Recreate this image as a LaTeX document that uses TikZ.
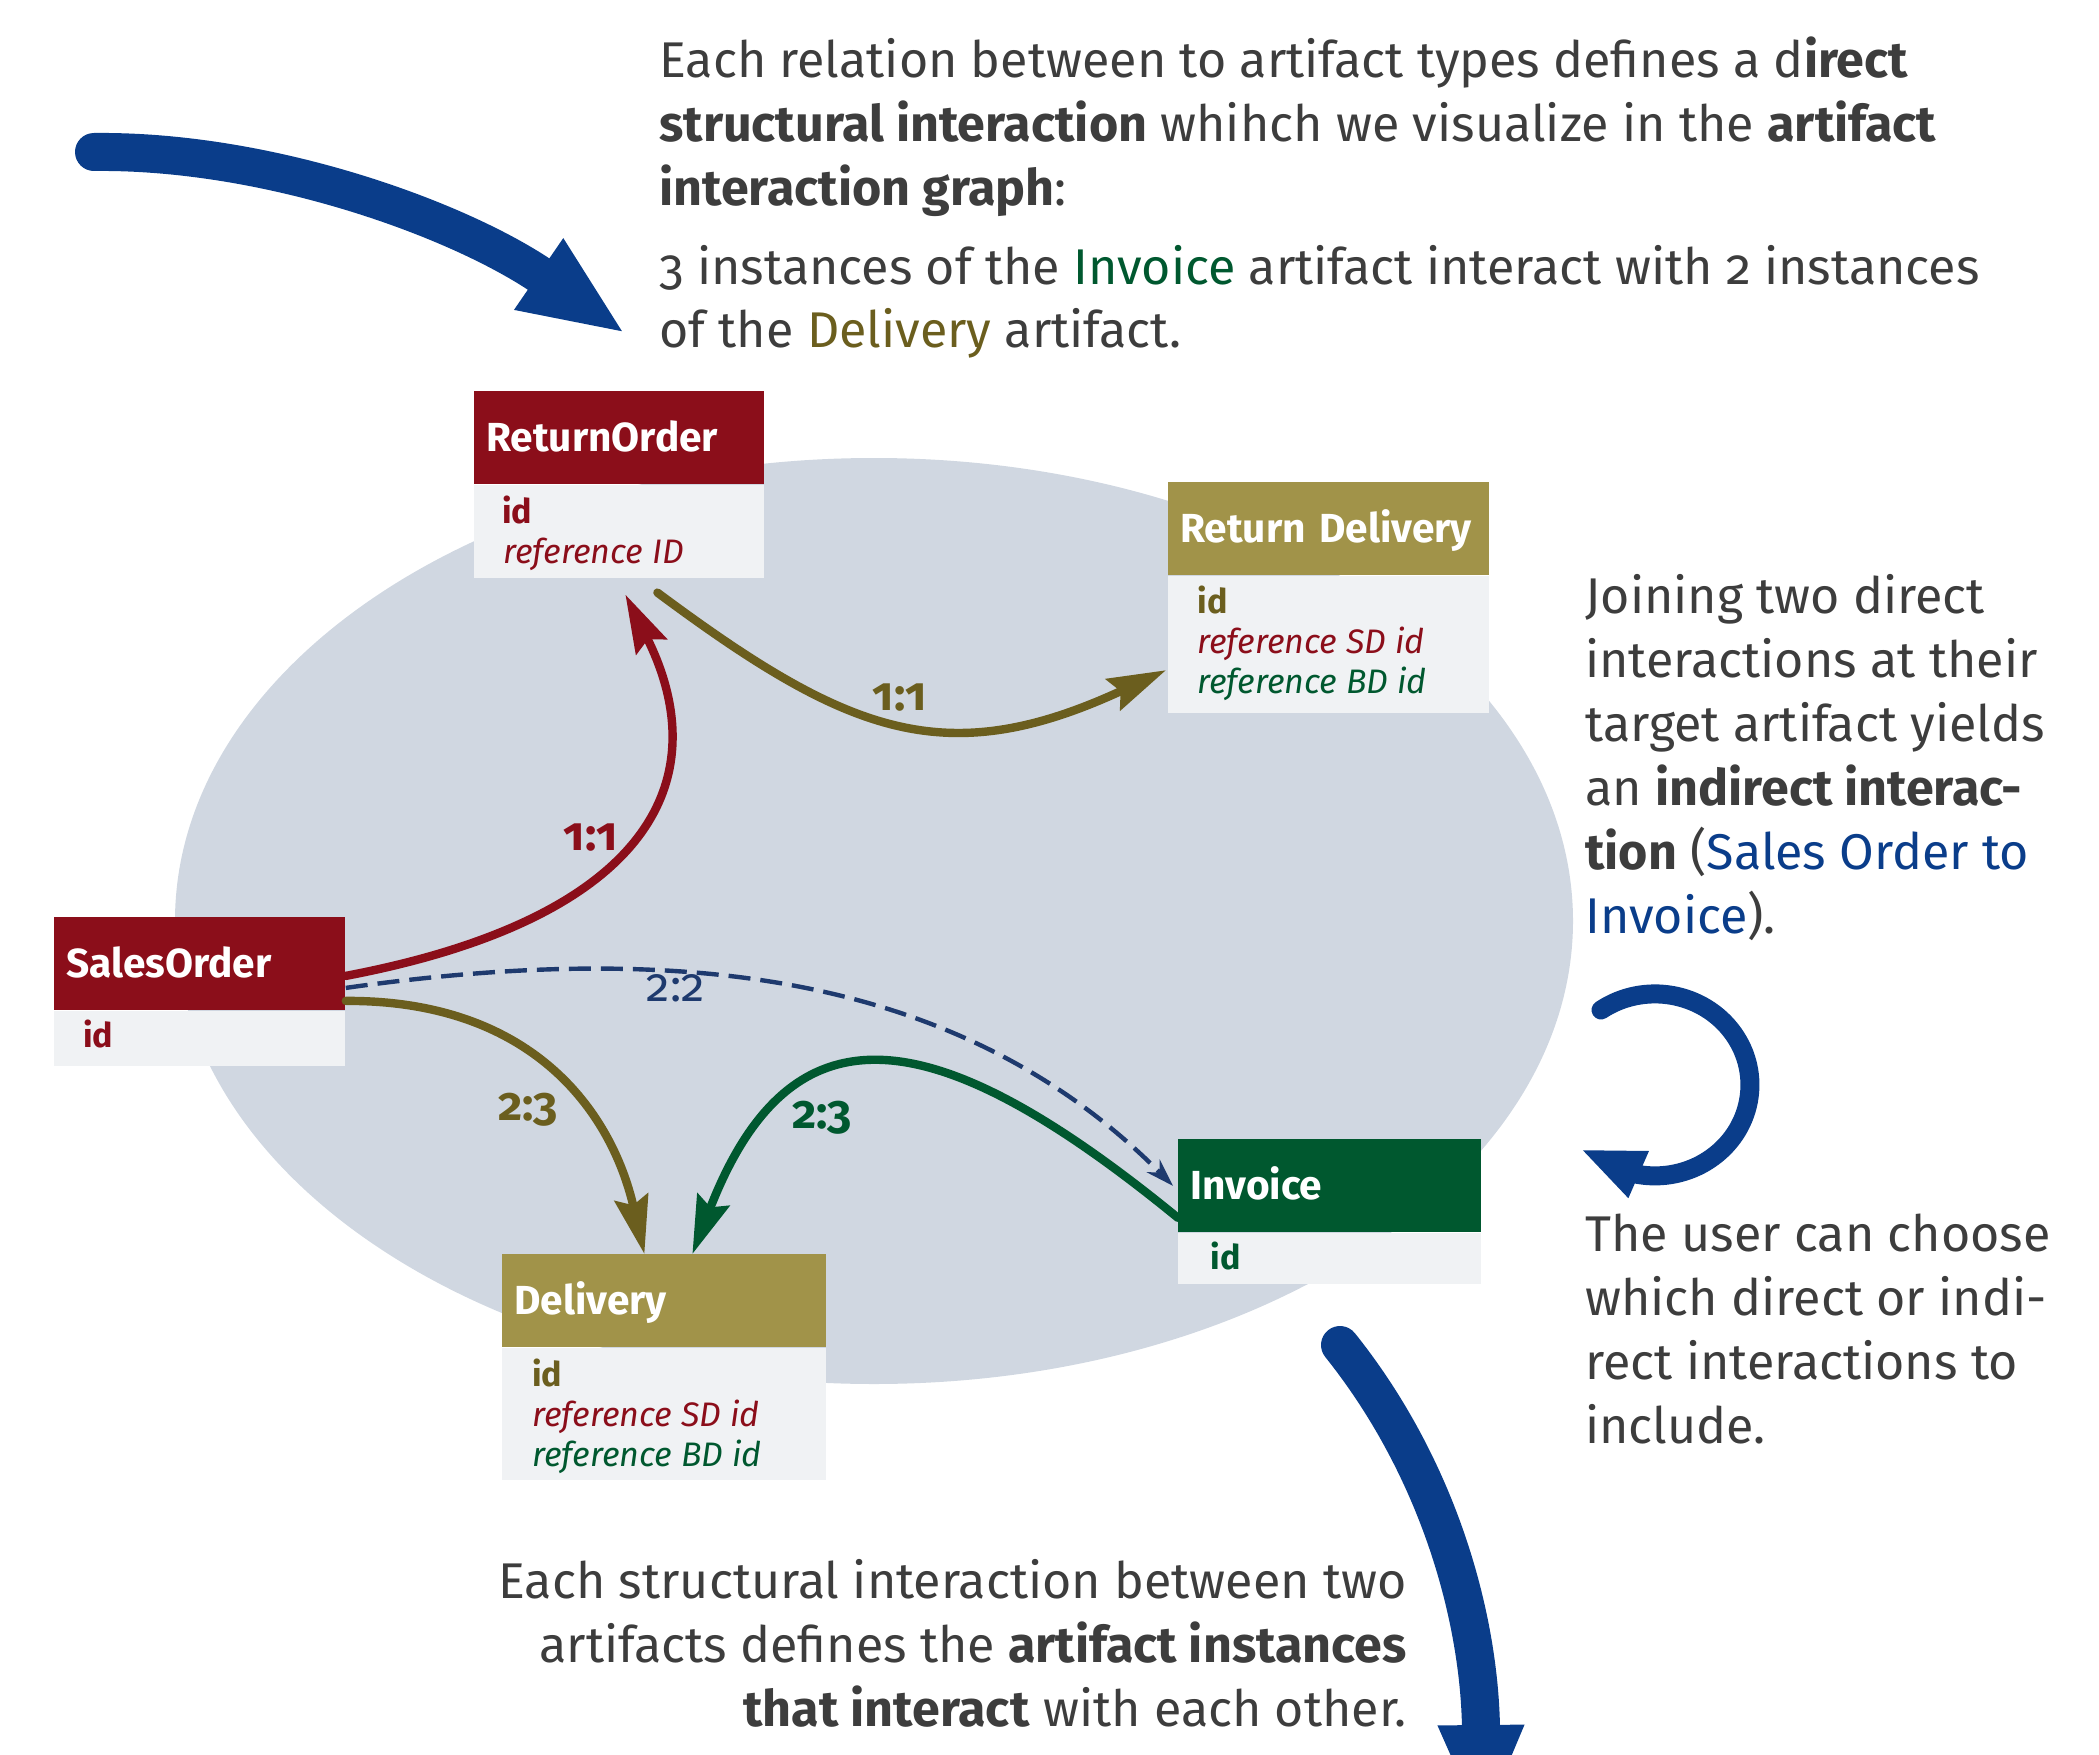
\documentclass[tikz,border=0pt]{standalone}
\usepackage{fontspec}
\setmainfont{Fira Sans}[Numbers=OldStyle]
\usetikzlibrary{arrows.meta}

\definecolor{cRed}{RGB}{139,14,26}
\definecolor{cOliveH}{RGB}{161,147,73}
\definecolor{cOlive}{RGB}{107,94,30}
\definecolor{cGreen}{RGB}{0,88,47}
\definecolor{cBody}{RGB}{240,242,244}
\definecolor{cEll}{RGB}{208,215,225}
\definecolor{cNavy}{RGB}{30,58,110}
\definecolor{cBlue}{RGB}{10,61,138}
\definecolor{cText}{RGB}{61,61,61}

\begin{document}
\begin{tikzpicture}[x=0.5pt,y=-0.5pt,
  hdr/.style={anchor=north west, inner xsep=6pt, inner ysep=0pt,
    minimum height=46.5pt, align=left, text height=14pt, text depth=0pt,
    text=white, font=\fontsize{20.3}{24}\selectfont\bfseries},
  bodyb/.style={anchor=north west, inner sep=0pt, fill=cBody},
  item/.style={anchor=base west, inner sep=0pt, font=\fontsize{17}{20}\selectfont},
  para/.style={anchor=base west, inner sep=0pt, text=cText,
    font=\fontsize{25.1}{32}\selectfont},
  parar/.style={para, anchor=base east},
  conn/.style={line width=4.2pt, line cap=round,
    -{Stealth[length=29pt,width=17pt,inset=4pt]}},
  mult/.style={inner sep=0pt, font=\fontsize{23.5}{26}\selectfont\bfseries},
  bigarrow/.style={draw=cBlue, line width=19pt, line cap=round,
    -{Triangle[length=53pt,width=39pt]}},
]
\useasboundingbox (0,0) rectangle (2099,1755);

% background area of the interaction graph
\fill[cEll] (874,921) ellipse [x radius=349.5pt, y radius=231.5pt];

% ---------- artifact boxes ----------
% ReturnOrder
\node[hdr, fill=cRed, text width=133pt] (ro) at (474,391) {ReturnOrder};
\node[bodyb, minimum width=145pt, minimum height=46.5pt] (rob) at (ro.south west) {};
\node[item, text=cRed, font=\fontsize{17}{20}\selectfont\bfseries] (ro-id) at (502,523) {id};
\node[item, text=cRed, font=\fontsize{17}{20}\selectfont\itshape] (ro-ref) at (503,563) {reference ID};

% Return Delivery
\node[hdr, fill=cOliveH, text width=148.5pt] (rd) at (1168,482) {Return Delivery};
\node[bodyb, minimum width=160.5pt, minimum height=68.5pt] (rdb) at (rd.south west) {};
\node[item, text=cOlive, font=\fontsize{17}{20}\selectfont\bfseries] (rd-id) at (1197,613) {id};
\node[item, text=cRed, font=\fontsize{17}{20}\selectfont\itshape] (rd-sd) at (1197,653) {reference SD id};
\node[item, text=cGreen, font=\fontsize{17}{20}\selectfont\itshape] (rd-bd) at (1197,693) {reference BD id};

% SalesOrder
\node[hdr, fill=cRed, text width=133.5pt] (so) at (54,917) {SalesOrder};
\node[bodyb, minimum width=145.5pt, minimum height=27.5pt] (sob) at (so.south west) {};
\node[item, text=cRed, font=\fontsize{17}{20}\selectfont\bfseries] (so-id) at (83,1047) {id};

% Delivery
\node[hdr, fill=cOliveH, text width=150pt] (dv) at (502,1254) {Delivery};
\node[bodyb, minimum width=162pt, minimum height=66pt] (dvb) at (dv.south west) {};
\node[item, text=cOlive, font=\fontsize{17}{20}\selectfont\bfseries] (dv-id) at (532,1386) {id};
\node[item, text=cRed, font=\fontsize{17}{20}\selectfont\itshape] (dv-sd) at (532,1426) {reference SD id};
\node[item, text=cGreen, font=\fontsize{17}{20}\selectfont\itshape] (dv-bd) at (532,1466) {reference BD id};

% Invoice
\node[hdr, fill=cGreen, text width=139.5pt] (iv) at (1178,1139) {Invoice};
\node[bodyb, minimum width=151.5pt, minimum height=25.5pt] (ivb) at (iv.south west) {};
\node[item, text=cGreen, font=\fontsize{17}{20}\selectfont\bfseries] (iv-id) at (1210,1269) {id};

% ---------- interactions ----------
\draw[conn, cRed] ([yshift=-6pt]so.east)
  .. controls (650,918) and (718,780) .. ([xshift=3pt,yshift=-8pt]rob.south);
\draw[conn, cOlive] ([xshift=19pt,yshift=-7pt]rob.south)
  .. controls (849,735) and (946,772) .. ([xshift=-1pt,yshift=-12.75pt]rdb.west);
\draw[conn, cOlive] ([yshift=-18.5pt]so.east)
  .. controls (530,1000) and (611,1109) .. ([xshift=-10pt]dv.north);
\draw[conn, cGreen] ([yshift=-16pt]iv.west)
  .. controls (930,1015) and (790,1002) .. ([xshift=14pt]dv.north);
\draw[cNavy, line width=2.2pt, dash pattern=on 11pt off 5pt,
  -{Stealth[length=14pt,width=9pt]}] ([yshift=-12pt]so.east)
  .. controls (650,945) and (950,960) .. ([xshift=-2.5pt]iv.west);

\node[mult, text=cRed] (m1) at (591,838) {1:1};
\node[mult, text=cOlive] (m2) at (900,698) {1:1};
\node[mult, text=cOlive] (m3) at (528,1110) {2:3};
\node[mult, text=cGreen] (m4) at (822,1118) {2:3};
\node[mult, text=cNavy, font=\fontsize{23.5}{26}\selectfont] (m5) at (676,988) {2:2};

% ---------- explanatory text ----------
\node[para] (t1) at (659,78) {Each relation between to artifact types defines a d\textbf{irect}};
\node[para] (t2) at (659,142) {\textbf{structural interaction} whihch we visualize in the \textbf{artifact}};
\node[para] (t3) at (659,206) {\textbf{interaction graph}:};
\node[para] (t4) at (659,285) {3 instances of the \textcolor{cGreen}{Invoice} artifact interact with 2 instances};
\node[para] (t5) at (659,348) {of the \textcolor{cOlive}{Delivery} artifact.};

\node[para] (r1) at (1585,613) {Joining two direct};
\node[para] (r2) at (1585,677) {interactions at their};
\node[para] (r3) at (1585,741) {target artifact yields};
\node[para] (r4) at (1585,805) {an \textbf{indirect interac-}};
\node[para] (r5) at (1585,869) {\textbf{tion} (\textcolor{cBlue}{Sales Order to}};
\node[para] (r6) at (1585,933) {\textcolor{cBlue}{Invoice}).};

\node[para] (u1) at (1585,1251) {The user can choose};
\node[para] (u2) at (1585,1315) {which direct or indi-};
\node[para] (u3) at (1585,1379) {rect interactions to};
\node[para] (u4) at (1585,1443) {include.};

\node[parar] (b1) at (1407,1598) {Each structural interaction between two};
\node[parar] (b2) at (1407,1662) {artifacts defines the \textbf{artifact instances}};
\node[parar] (b3) at (1407,1726) {\textbf{that interact} with each other.};

% ---------- pointer arrows ----------
\coordinate (pa-s) at (94,152);
\coordinate (pa-e) at (626,334);
\draw[bigarrow] (pa-s) .. controls (270,150) and (460,220) .. (pa-e);

\coordinate (pb-s) at (1340,1345);
\coordinate (pb-e) at (1482,1831);
\draw[bigarrow] (pb-s) .. controls (1440,1470) and (1480,1620) .. (pb-e);

\coordinate (pc-s) at (1601,1010);
\coordinate (pc-e) at (1580,1149);
\draw[draw=cBlue, line width=9.5pt, line cap=round,
  -{Triangle[length=32pt,width=23pt]}]
  (pc-s) arc[start angle=124.6, end angle=-100, x radius=47.5pt, y radius=45.5pt]
  -- (pc-e);
\end{tikzpicture}
\end{document}
